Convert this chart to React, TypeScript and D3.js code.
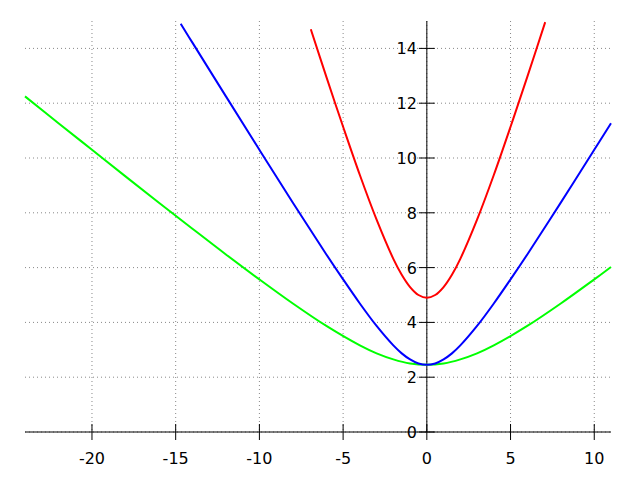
import React from "react";
import * as d3 from "d3";

const xTicks = [-20, -15, -10, -5, 0, 5, 10];
const yTicks = [0, 2, 4, 6, 8, 10, 12, 14];

const greenX = [-24, -22, -20, -18, -16, -14, -12, -10, -8, -6, -4, -3, -2, -1, 0, 1, 2, 3, 4, 6, 8, 10, 11];
const greenY = [12.25, 11.27, 10.3, 9.33, 8.37, 7.42, 6.48, 5.57, 4.69, 3.87, 3.16, 2.87, 2.65, 2.5, 2.45, 2.5, 2.65, 2.87, 3.16, 3.87, 4.69, 5.57, 6.02];

const blueX = [-14.7, -14, -12, -10, -8, -6, -5, -4, -3, -2, -1.5, -1, -0.5, 0, 0.5, 1, 1.5, 2, 3, 4, 5, 6, 8, 10, 11];
const blueY = [14.9, 14.21, 12.25, 10.3, 8.37, 6.48, 5.57, 4.69, 3.87, 3.16, 2.87, 2.65, 2.5, 2.45, 2.5, 2.65, 2.87, 3.16, 3.87, 4.69, 5.57, 6.48, 8.37, 10.3, 11.27];

const redX = [-6.93, -6, -5, -4, -3, -2, -1.5, -1, -0.5, 0, 0.5, 1, 1.5, 2, 3, 4, 5, 6, 7.07];
const redY = [14.7, 12.96, 11.14, 9.38, 7.75, 6.32, 5.74, 5.29, 5.0, 4.9, 5.0, 5.29, 5.74, 6.32, 7.75, 9.38, 11.14, 12.96, 14.96];

const series = [
  { xs: greenX, ys: greenY, color: "#00ff00" },
  { xs: blueX, ys: blueY, color: "#0000ff" },
  { xs: redX, ys: redY, color: "#ff0000" },
];

export default function App() {
  const W = 640, H = 480;
  const left = 25, right = 611, top = 21, bottom = 432;
  const x = d3.scaleLinear().domain([-24, 11]).range([left, right]);
  const y = d3.scaleLinear().domain([0, 15]).range([bottom, top]);
  const x0 = x(0);
  const font = "DejaVu Sans, sans-serif";

  return (
    <svg width={W} height={H} style={{ position: "absolute", left: 0, top: 0 }}>
      <rect x={0} y={0} width={W} height={H} fill="#fff" />
      {xTicks.map((t) => (
        <line key={"gx" + t} x1={x(t)} x2={x(t)} y1={top} y2={bottom} stroke="#888" strokeDasharray="1,3" />
      ))}
      {yTicks.map((t) => (
        <line key={"gy" + t} x1={left} x2={right} y1={y(t)} y2={y(t)} stroke="#888" strokeDasharray="1,3" />
      ))}
      <line x1={left} x2={right} y1={bottom} y2={bottom} stroke="#000" />
      <line x1={x0} x2={x0} y1={top} y2={bottom} stroke="#000" />
      {xTicks.map((t) => (
        <g key={"tx" + t}>
          <line x1={x(t)} x2={x(t)} y1={bottom - 8} y2={bottom + 8} stroke="#000" />
          <text x={x(t)} y={bottom + 32} textAnchor="middle" fontFamily={font} fontSize={16}>{t}</text>
        </g>
      ))}
      {yTicks.map((t) => (
        <g key={"ty" + t}>
          <line x1={x0 - 8} x2={x0 + 8} y1={y(t)} y2={y(t)} stroke="#000" />
          <text x={x0 - 10} y={y(t) + 6} textAnchor="end" fontFamily={font} fontSize={16}>{t}</text>
        </g>
      ))}
      {series.map((s, i) => {
        const pts = s.xs.map((v, j) => [x(v), y(s.ys[j])] as [number, number]);
        const path = d3.line().curve(d3.curveCatmullRom)(pts) || "";
        return <path key={i} d={path} fill="none" stroke={s.color} strokeWidth={2} />;
      })}
    </svg>
  );
}
